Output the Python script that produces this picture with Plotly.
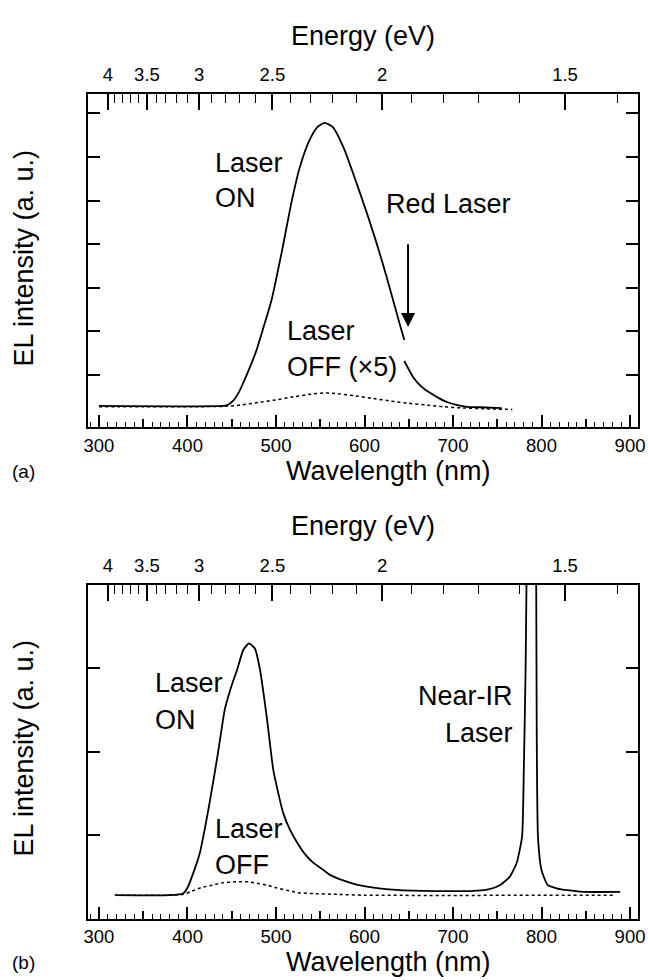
import plotly.graph_objects as go

HC = 1239.84  # eV*nm, for the top energy scale

# ---------------- data ----------------
# Panel (a): EL spectrum, red laser ON (solid, interrupted at the laser line)
a_on_wl_1 = [300, 440, 445, 452, 458, 463, 470, 478, 486, 495, 507, 518, 527, 538, 547, 555,
             564, 576, 591, 610, 625, 640, 645]
a_on_y_1 = [0.29, 0.29, 0.31, 0.42, 0.60, 0.82, 1.15, 1.57, 2.10, 2.72, 3.87, 5.01, 5.77, 6.39,
            6.69, 6.78, 6.69, 6.23, 5.40, 4.26, 3.25, 2.15, 1.80]
a_on_wl_2 = [645, 655, 664, 674, 684, 693, 705, 716, 730, 755]
a_on_y_2 = [1.32, 0.95, 0.74, 0.59, 0.47, 0.38, 0.31, 0.27, 0.26, 0.24]
# Panel (a): laser OFF (x5), dotted
a_off_wl = [300, 440, 460, 480, 500, 520, 540, 555, 570, 590, 610, 630, 650, 670, 690, 710, 735, 767]
a_off_y = [0.27, 0.28, 0.31, 0.37, 0.43, 0.50, 0.56, 0.59, 0.57, 0.52, 0.46, 0.40, 0.35, 0.31,
           0.27, 0.245, 0.225, 0.21]

# Panel (b): near-IR laser ON (solid)
b_on_wl = [318, 380, 395, 400, 407, 414, 420, 425, 430, 434.5, 442, 446, 451, 456, 463, 469.5,
           476, 482, 490, 497, 508, 516, 524, 533, 542, 550, 560, 575, 590, 610, 640, 680, 720,
           740, 753, 764, 772, 778, 780, 782, 783, 786, 791, 794, 794.6, 796, 800, 807, 818, 829,
           847, 889]
b_on_y = [0.28, 0.28, 0.30, 0.37, 0.56, 0.79, 1.10, 1.39, 1.70, 1.99, 2.50, 2.66, 2.83, 2.98,
          3.22, 3.30, 3.24, 2.98, 2.38, 1.78, 1.27, 1.06, 0.91, 0.77, 0.67, 0.61, 0.53, 0.46,
          0.41, 0.37, 0.34, 0.33, 0.33, 0.35, 0.40, 0.50, 0.67, 0.98, 1.78, 2.98, 4.0, 7.0, 7.0,
          4.0, 2.18, 0.98, 0.58, 0.40, 0.36, 0.34, 0.32, 0.32]
# Panel (b): laser OFF, dotted
b_off_wl = [318, 395, 405, 415, 428, 440, 455, 469, 480, 490, 500, 512, 525, 542, 570, 600, 882]
b_off_y = [0.28, 0.29, 0.33, 0.37, 0.40, 0.43, 0.44, 0.44, 0.42, 0.40, 0.37, 0.34, 0.31, 0.30,
           0.29, 0.28, 0.28]

# Axis ticks
wl_major = [300, 400, 500, 600, 700, 800, 900]
wl_mid = [350, 450, 550, 650, 750, 850]
wl_minor = [w for w in range(290, 910, 10) if w % 50 != 0]
energy_major = [4, 3.5, 3, 2.5, 2, 1.5]
energy_major_text = ["4", "3.5", "3", "2.5", "2", "1.5"]
energy_minor = [3.9, 3.8, 3.7, 3.6, 3.4, 3.3, 3.2, 3.1, 2.9, 2.8, 2.7, 2.6,
                2.4, 2.3, 2.2, 2.1, 1.9, 1.8, 1.7, 1.6, 1.4]
a_yticks = [1, 2, 3, 4, 5, 6, 7]
b_yticks = [1, 2, 3, 4]

# ---------------- style ----------------
FONT = "Liberation Sans, Arial, Helvetica, sans-serif"
XR = [287.6, 909.0]
A_YR = [-0.204, 7.445]
B_YR = [0.0, 4.0]
A_DOM = [0.5638, 0.9041]
B_DOM = [0.0627, 0.4031]
TXT = 27
TICKF = dict(size=18.5, color="black", family=FONT)

fig = go.Figure()


def solid(x, y, xa, ya, smooth=0.6):
    return go.Scatter(x=x, y=y, mode="lines", xaxis=xa, yaxis=ya, showlegend=False,
                      hoverinfo="skip",
                      line=dict(color="black", width=1.8, shape="spline", smoothing=smooth))


def dotted(x, y, xa, ya):
    return go.Scatter(x=x, y=y, mode="lines", xaxis=xa, yaxis=ya, showlegend=False,
                      hoverinfo="skip",
                      line=dict(color="black", width=1.5, dash="dot", shape="spline", smoothing=0.6))


def helper(xa, ya):
    # empty (all-null) trace so that the overlaid tick-only axes get drawn
    return go.Scatter(x=XR, y=[None, None], mode="lines", xaxis=xa, yaxis=ya,
                      showlegend=False, hoverinfo="skip")


fig.add_trace(dotted(a_off_wl, a_off_y, "x", "y"))
fig.add_trace(solid(a_on_wl_1, a_on_y_1, "x", "y"))
fig.add_trace(solid(a_on_wl_2, a_on_y_2, "x", "y"))
fig.add_trace(dotted(b_off_wl, b_off_y, "x2", "y2"))
fig.add_trace(solid(b_on_wl, b_on_y, "x2", "y2", smooth=0.5))
for xa, ya in (("x3", "y"), ("x5", "y"), ("x4", "y2"), ("x6", "y2")):
    fig.add_trace(helper(xa, ya))


def bottom_axis(anchor):
    return dict(anchor=anchor, domain=[0, 1], range=XR, showline=True, linecolor="black",
                linewidth=2, ticks="inside", tickmode="array", tickvals=wl_major,
                ticktext=[str(v) for v in wl_major], ticklen=12, tickwidth=1.5, tickcolor="black",
                minor=dict(tickmode="array", tickvals=wl_minor, ticks="inside", ticklen=5,
                           tickwidth=1.2, tickcolor="black"),
                tickfont=TICKF, showgrid=False, zeroline=False, ticklabelstandoff=0,
                fixedrange=True)


def mid_axis(over, anchor):
    return dict(overlaying=over, anchor=anchor, side="bottom", range=XR, ticks="inside",
                tickmode="array", tickvals=wl_mid, ticklen=8, tickwidth=1.5, tickcolor="black",
                showticklabels=False, showline=False, showgrid=False, zeroline=False,
                fixedrange=True)


def energy_axis(over, anchor):
    return dict(overlaying=over, anchor=anchor, side="top", range=XR, showline=True,
                linecolor="black", linewidth=2, ticks="inside", tickmode="array",
                tickvals=[HC / e for e in energy_major], ticktext=energy_major_text,
                ticklen=16, tickwidth=1.5, tickcolor="black",
                minor=dict(tickmode="array", tickvals=[HC / e for e in energy_minor],
                           ticks="inside", ticklen=9, tickwidth=1.2, tickcolor="black"),
                tickfont=TICKF, showgrid=False, zeroline=False, ticklabelstandoff=4,
                fixedrange=True)


def y_axis(anchor, dom, rng, ticks):
    return dict(anchor=anchor, domain=dom, range=rng, showline=True, linecolor="black",
                linewidth=2, mirror="ticks", ticks="inside", tickmode="array", tickvals=ticks,
                ticklen=12, tickwidth=1.5, tickcolor="black", showticklabels=False,
                showgrid=False, zeroline=False, fixedrange=True)


def label(text, x, y, xref, yref, xanchor="left", size=TXT):
    return dict(text=text, x=x, y=y, xref=xref, yref=yref, xanchor=xanchor, yanchor="middle",
                showarrow=False, font=dict(size=size, color="black", family=FONT))


annotations = [
    # panel (a) labels
    label("Laser", 428.8, 5.86, "x", "y"),
    label("ON", 428.8, 5.05, "x", "y"),
    label("Red Laser", 694.4, 4.93, "x", "y", xanchor="center"),
    label("Laser", 510.2, 2.01, "x", "y"),
    label("OFF (\u00d75)", 510.2, 1.18, "x", "y"),
    dict(x=649.2, y=2.10, ax=649.2, ay=4.03, xref="x", yref="y", axref="x", ayref="y",
         text="", showarrow=True, arrowhead=2, arrowsize=1.4, arrowwidth=2, arrowcolor="black"),
    # panel (b) labels
    label("Laser", 361, 2.83, "x2", "y2"),
    label("ON", 361, 2.38, "x2", "y2"),
    label("Laser", 428.8, 1.07, "x2", "y2"),
    label("OFF", 428.8, 0.64, "x2", "y2"),
    label("Near-IR", 770, 2.67, "x2", "y2", xanchor="right"),
    label("Laser", 770, 2.23, "x2", "y2", xanchor="right"),
    # axis titles (paper coords)
    label("Energy (eV)", 0.5, 1 - 35.6 / 980, "paper", "paper", xanchor="center"),
    label("Energy (eV)", 0.5, 1 - 526 / 980, "paper", "paper", xanchor="center"),
    label("Wavelength (nm)", 0.5455, 1 - 471 / 980, "paper", "paper", xanchor="center"),
    label("Wavelength (nm)", 0.5455, 1 - 962 / 980, "paper", "paper", xanchor="center"),
    label("(a)", -0.1418, 1 - 471 / 980, "paper", "paper", size=19),
    label("(b)", -0.1418, 1 - 962 / 980, "paper", "paper", size=19),
]
for yc in (258, 748):
    annotations.append(dict(text="EL intensity (a. u.)", x=(23.5 - 88) / 550, y=1 - yc / 980,
                            xref="paper", yref="paper", xanchor="center", yanchor="middle",
                            textangle=-90, showarrow=False,
                            font=dict(size=TXT, color="black", family=FONT)))

fig.update_layout(
    width=648, height=980, autosize=False,
    margin=dict(l=88, r=10, t=0, b=0, pad=0),
    paper_bgcolor="white", plot_bgcolor="white",
    font=dict(family=FONT, color="black"),
    showlegend=False,
    xaxis=bottom_axis("y"),
    xaxis3=mid_axis("x", "y"),
    xaxis5=energy_axis("x", "y"),
    yaxis=y_axis("x", A_DOM, A_YR, a_yticks),
    xaxis2=bottom_axis("y2"),
    xaxis4=mid_axis("x2", "y2"),
    xaxis6=energy_axis("x2", "y2"),
    yaxis2=y_axis("x2", B_DOM, B_YR, b_yticks),
    annotations=annotations,
)

fig.write_html("out.html")
